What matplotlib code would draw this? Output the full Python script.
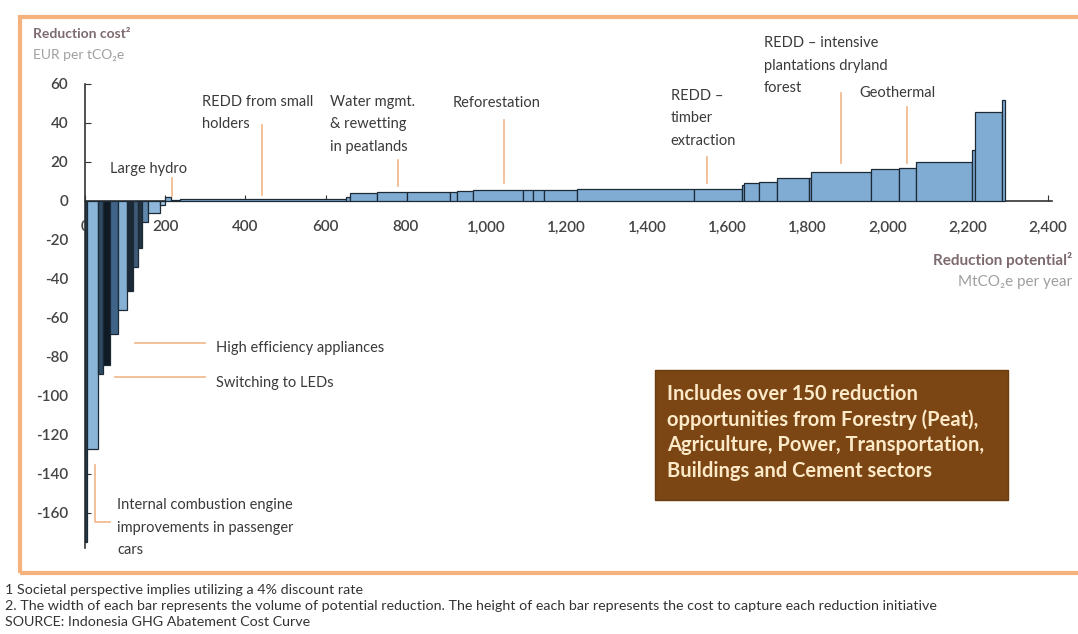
import numpy as np
import matplotlib
matplotlib.use("Agg")
import matplotlib.pyplot as plt
from matplotlib.patches import Rectangle
from matplotlib.ticker import FuncFormatter

plt.rcParams['font.family'] = ['Lato', 'DejaVu Sans']
plt.rcParams['axes.unicode_minus'] = False

# ____________________ data: abatement levers (width = MtCO2e, height = EUR/tCO2e) ____________________ #

neg_widths = [5, 27, 13, 17, 20, 22, 15, 13, 10, 15, 30, 12]
neg_costs = [-175, -127, -89, -84, -68, -56, -46, -34, -24, -11, -6, -2]

pos_widths = [16, 22, 414, 9, 67, 75, 107, 18, 39, 125, 25, 29, 80, 294, 119,
              5, 37, 45, 80, 5, 149, 70, 42, 139, 8, 67, 7]
pos_costs = [2, 0.3, 0.8, 2, 4.0, 4.5, 4.5, 4.8, 5.0, 5.5, 5.5, 5.5, 5.7, 6.0, 6.0,
             8.0, 9.1, 9.9, 11.6, 12.0, 15.0, 16.2, 16.7, 20.2, 26, 45.8, 52]

x_ticks = list(range(0, 2401, 200))
y_ticks = list(range(-160, 61, 20))

# labels with pointer lines: text, x, y of first line, pointer x, pointer top, pointer bottom
top_labels = [
    ("Large hydro", 62, 16.5, 216, 11.8, 2.6),
    ("REDD from small\nholders", 291, 51, 440, 39, 3),
    ("Water mgmt.\n& rewetting\nin peatlands", 610, 51, 779, 21, 7.7),
    ("Reforestation", 916, 50.3, 1045, 41.5, 9.2),
    ("REDD –\ntimber\nextraction", 1460, 54, 1550, 22.6, 9.2),
    ("REDD – intensive\nplantations dryland\nforest", 1692, 81, 1883, 55.4, 19.5),
    ("Geothermal", 1931, 55.4, 2048, 48.2, 19.5),
]

# ____________________ colours ____________________ #
neg_colors = ['#2b3e50', '#8ab4d8', '#2f4a63', '#0f1a24', '#3f6488', '#86b0d4',
              '#1b2835', '#3e5c78', '#22313f', '#5f87ab', '#8fb7da', '#a5c6e2']
pos_color = '#80acd4'
edge = '#1c2a36'
pointer = '#f2b58a'
txt = '#3a3a3a'

widths = neg_widths + pos_widths
costs = neg_costs + pos_costs
lefts = np.concatenate([[0], np.cumsum(widths)[:-1]])
colors = neg_colors + [pos_color] * len(pos_widths)

fig = plt.figure(figsize=(10.78, 6.34), dpi=100)
ax = fig.add_axes([85 / 1078, 1 - 548 / 634, (1052 - 85) / 1078, (548 - 84) / 634])

ax.bar(lefts, costs, width=widths, align='edge', color=colors,
       edgecolor=edge, linewidth=0.9, zorder=3)

ax.set_xlim(0, 2410)
ax.set_ylim(-178, 60)

for s in ['top', 'right']:
    ax.spines[s].set_visible(False)
ax.spines['bottom'].set_position(('data', 0))
ax.spines['left'].set_color('#333333')
ax.spines['bottom'].set_color('#333333')
ax.spines['left'].set_linewidth(1.2)
ax.spines['bottom'].set_linewidth(1.2)

ax.set_xticks(x_ticks)
ax.set_yticks(y_ticks)
ax.xaxis.set_major_formatter(FuncFormatter(lambda v, p: f"{int(v):,}"))
ax.tick_params(axis='x', direction='in', length=4, pad=14, labelsize=11,
               labelcolor='#444444', color='#333333')
ax.tick_params(axis='y', direction='in', length=4, pad=12, labelsize=11,
               labelcolor='#444444', color='#333333')
for lb in ax.get_xticklabels() + ax.get_yticklabels():
    lb.set_fontweight('semibold')


def line_label(x, y, label):
    # one text per line, 22.5 px apart, so every line keeps its own box
    for i, line in enumerate(label.split("\n")):
        ax.annotate(line, (x, y), xytext=(0, -16.2 * i), textcoords='offset points',
                    fontsize=10.5, color=txt, va='center', ha='left',
                    annotation_clip=False)


# pointers and labels above the axis
for label, tx, ty, px, y0, y1 in top_labels:
    line_label(tx, ty, label)
    ax.plot([px, px], [y0, y1], color=pointer, lw=1.2, clip_on=False, zorder=4)

# labels on the negative side
ax.plot([124, 299], [-72.8, -72.8], color=pointer, lw=1.2)
line_label(326, -75.5, "High efficiency appliances")
ax.plot([75, 299], [-90.3, -90.3], color=pointer, lw=1.2)
line_label(326, -93.5, "Switching to LEDs")
ax.plot([25, 25, 62], [-135.4, -164.6, -164.6], color=pointer, lw=1.2, zorder=4)
line_label(80, -156, "Internal combustion engine\nimprovements in passenger\ncars")

# axis titles
fig.text(33 / 1078, 1 - 34 / 634, "Reduction cost²", fontsize=10, fontweight='bold',
         color='#7d6a6e', va='center')
fig.text(33 / 1078, 1 - 55 / 634, "EUR per tCO₂e", fontsize=10, color='#a0a0a0', va='center')
fig.text(1072 / 1078, 1 - 260 / 634, "Reduction potential²", fontsize=11, fontweight='bold',
         color='#7d6a6e', va='center', ha='right')
fig.text(1072 / 1078, 1 - 282 / 634, "MtCO₂e per year", fontsize=11, color='#a0a0a0',
         va='center', ha='right')

# brown info box
fig.patches.append(Rectangle((655 / 1078, 1 - 500 / 634), 353 / 1078, 130 / 634,
                             transform=fig.transFigure, facecolor='#7b4614',
                             edgecolor='#6a3c10', lw=1, zorder=5))
fig.text(667 / 1078, 1 - 384 / 634,
         "Includes over 150 reduction\nopportunities from Forestry (Peat),\n"
         "Agriculture, Power, Transportation,\nBuildings and Cement sectors",
         fontsize=14.5, fontweight='bold', color='#fbe9c8', va='top',
         linespacing=1.33, zorder=6)

# orange frame
fig.patches.append(Rectangle((20 / 1078, 1 - 573 / 634), 1080 / 1078, 556 / 634,
                             transform=fig.transFigure, facecolor='none',
                             edgecolor='#f5b27d', lw=3, zorder=0))

# footnotes
notes = ["1 Societal perspective implies utilizing a 4% discount rate",
         "2. The width of each bar represents the volume of potential reduction. "
         "The height of each bar represents the cost to capture each reduction initiative",
         "SOURCE: Indonesia GHG Abatement Cost Curve"]
for i, n in enumerate(notes):
    fig.text(5 / 1078, 1 - (590 + 16 * i) / 634, n, fontsize=10.3, color='#333333', va='center')

fig.savefig("out.png", dpi=100)
